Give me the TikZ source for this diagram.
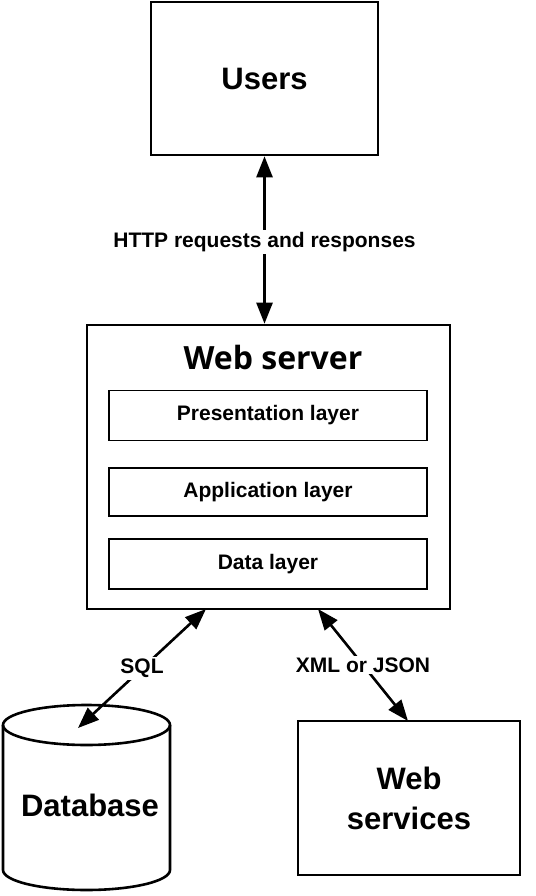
\documentclass[tikz,border=0pt]{standalone}
\usepackage{fontspec}
\setmainfont{Liberation Sans}
\newfontfamily\titlefont{Open Sans}
\usetikzlibrary{arrows.meta}
\begin{document}
\begin{tikzpicture}[x=1pt,y=-1pt,
  bigbox/.style={draw,line width=2.6pt,inner sep=0pt},
  layerbox/.style={draw,line width=1.6pt,minimum width=318pt,minimum height=50pt,font=\bfseries\fontsize{21}{24}\selectfont},
  conn/.style={line width=2.6pt,{Triangle[length=21pt,width=16pt]}-{Triangle[length=21pt,width=16pt]}},
  lbl/.style={fill=white,inner sep=2pt,font=\bfseries\fontsize{21}{24}\selectfont}]
\useasboundingbox (0,0) rectangle (535,896);
\fill[white] (0,0) rectangle (535,896);
% Users
\node[bigbox,minimum width=227pt,minimum height=153pt,font=\bfseries\fontsize{31}{36}\selectfont] (users) at (264.5,78.5) {Users};
% Web server
\node[bigbox,minimum width=363pt,minimum height=284pt] (ws) at (268.5,467) {};
\node[font=\titlefont\bfseries\fontsize{32}{36}\selectfont] (wst) at (273,357) {Web server};
\node[layerbox] (pres) at (268,415.5) {Presentation layer};
\node[layerbox,minimum height=48pt] (app) at (268,492) {Application layer};
\node[layerbox] (data) at (268,564) {Data layer};
% Web services
\node[bigbox,minimum width=222pt,minimum height=154pt,align=center,font=\bfseries\fontsize{31}{40}\selectfont] (wsv) at (409,798) {Web\\services};
% Database cylinder
\draw[line width=2.6pt,fill=white] (3,725) -- (3,870) arc[start angle=180,end angle=360,x radius=83.5pt,y radius=20pt] -- (170,725);
\draw[line width=2.6pt] (86.5,725) ellipse[x radius=83.5pt,y radius=20pt];
\node[font=\bfseries\fontsize{31}{36}\selectfont] (db) at (90,805) {Database};
\coordinate (dbtop) at (78,728);
\coordinate (wsl) at (206,609);
\coordinate (wsr) at (318,609);
\coordinate (wsvt) at (408,721);
% Connectors
\draw[conn] (users.south) -- (users.south |- ws.north) node[lbl,midway,yshift=-2pt] {HTTP requests and responses};
\draw[conn] (wsl) -- (dbtop) node[lbl,pos=0.5] {SQL};
\draw[conn] (wsr) -- (wsvt) node[lbl,pos=0.5] {XML or JSON};
\end{tikzpicture}
\end{document}
